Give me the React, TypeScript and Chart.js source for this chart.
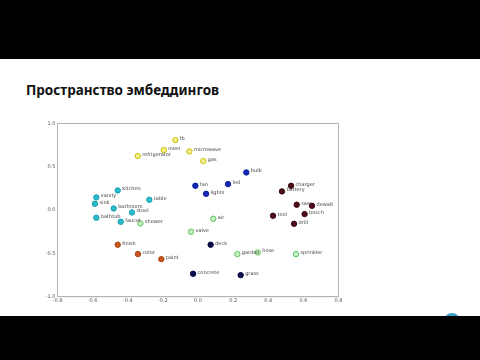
import React, { useEffect, useRef } from "react";
import { Chart, registerables } from "chart.js";

Chart.register(...registerables);

const title = "Пространство эмбеддингов";

const xTicks = [-0.8, -0.6, -0.4, -0.2, 0.0, 0.2, 0.4, 0.6, 0.8];
const yTicks = [-1.0, -0.5, 0.0, 0.5, 1.0];

const appliancesNames = ["fb", "oven", "refrigerator", "microwave", "gas"];
const appliancesX = [-0.129, -0.195, -0.343, -0.049, 0.03];
const appliancesY = [0.808, 0.693, 0.624, 0.677, 0.566];

const lightingNames = ["bulb", "fan", "led", "lights"];
const lightingX = [0.275, -0.015, 0.171, 0.046];
const lightingY = [0.435, 0.281, 0.3, 0.188];

const toolsNames = ["charger", "battery", "saw", "dewalt", "tool", "bosch", "drill"];
const toolsX = [0.53, 0.478, 0.562, 0.649, 0.427, 0.607, 0.547];
const toolsY = [0.281, 0.216, 0.062, 0.05, -0.065, -0.046, -0.158];

const roomsNames = ["kitchen", "vanity", "sink", "table", "bathroom", "stool", "bathtub", "faucet"];
const roomsX = [-0.457, -0.579, -0.587, -0.277, -0.48, -0.376, -0.579, -0.44];
const roomsY = [0.227, 0.147, 0.073, 0.119, 0.019, -0.027, -0.088, -0.135];

const waterNames = ["shower", "air", "valve", "garden", "hose", "sprinkler"];
const waterX = [-0.328, 0.087, -0.04, 0.224, 0.34, 0.558];
const waterY = [-0.154, -0.1, -0.25, -0.508, -0.489, -0.508];

const paintNames = ["finish", "color", "paint"];
const paintX = [-0.457, -0.342, -0.209];
const paintY = [-0.4, -0.508, -0.566];

const outdoorNames = ["deck", "concrete", "grass"];
const outdoorX = [0.072, -0.028, 0.243];
const outdoorY = [-0.4, -0.735, -0.751];

const groups = [
  { names: appliancesNames, xs: appliancesX, ys: appliancesY, fill: "#f3ef8a", edge: "#c9c10c" },
  { names: lightingNames, xs: lightingX, ys: lightingY, fill: "#1428b4", edge: "#0c1c9a" },
  { names: toolsNames, xs: toolsX, ys: toolsY, fill: "#4e0a16", edge: "#3a0610" },
  { names: roomsNames, xs: roomsX, ys: roomsY, fill: "#2abccb", edge: "#1a9eae" },
  { names: waterNames, xs: waterX, ys: waterY, fill: "#c9f0c4", edge: "#5cc45c" },
  { names: paintNames, xs: paintX, ys: paintY, fill: "#c9561e", edge: "#a84414" },
  { names: outdoorNames, xs: outdoorX, ys: outdoorY, fill: "#0c0c52", edge: "#06063c" },
];

const framePlugin = {
  id: "frame",
  beforeDatasetsDraw(chart: any) {
    const { ctx, chartArea } = chart;
    ctx.save();
    ctx.strokeStyle = "#b4b4b4";
    ctx.lineWidth = 1;
    ctx.strokeRect(chartArea.left, chartArea.top, chartArea.right - chartArea.left, chartArea.bottom - chartArea.top);
    ctx.restore();
  },
};

const labelPlugin = {
  id: "pointLabels",
  afterDatasetsDraw(chart: any) {
    const ctx = chart.ctx;
    ctx.save();
    ctx.font = "5px 'DejaVu Sans', sans-serif";
    ctx.fillStyle = "#444";
    ctx.textBaseline = "middle";
    ctx.textAlign = "left";
    chart.data.datasets.forEach((ds: any, di: number) => {
      const meta = chart.getDatasetMeta(di);
      meta.data.forEach((el: any, i: number) => {
        ctx.fillText(ds.names[i], el.x + 4.5, el.y - 1.5);
      });
    });
    ctx.restore();
  },
};

const fmt = (v: number) => (Math.abs(v) < 1e-9 ? "0.0" : Number(v).toFixed(1));

function ScatterChart() {
  const ref = useRef<HTMLCanvasElement | null>(null);
  useEffect(() => {
    if (!ref.current) return;
    const chart = new Chart(ref.current, {
      type: "scatter",
      data: {
        datasets: groups.map((g) => ({
          names: g.names,
          data: g.xs.map((x, i) => ({ x, y: g.ys[i] })),
          backgroundColor: g.fill,
          borderColor: g.edge,
          borderWidth: 1,
          pointRadius: 2.7,
        })) as any,
      },
      options: {
        animation: false,
        responsive: false,
        maintainAspectRatio: false,
        layout: { padding: { left: 0, right: 21.5, top: 13.5, bottom: 0 } },
        plugins: { legend: { display: false }, tooltip: { enabled: false } },
        scales: {
          x: {
            type: "linear",
            min: xTicks[0],
            max: xTicks[xTicks.length - 1],
            afterBuildTicks: (s: any) => {
              s.ticks = xTicks.map((v) => ({ value: v }));
            },
            afterFit: (s: any) => {
              s.height = 13.3;
            },
            ticks: { callback: (v: any) => fmt(v), font: { size: 5, family: "DejaVu Sans" }, color: "#555", padding: 1, maxRotation: 0, autoSkip: false },
            grid: { display: false, drawTicks: false },
            border: { color: "#b4b4b4", width: 1 },
          },
          y: {
            type: "linear",
            min: yTicks[0],
            max: yTicks[yTicks.length - 1],
            afterBuildTicks: (s: any) => {
              s.ticks = yTicks.map((v) => ({ value: v }));
            },
            afterFit: (s: any) => {
              s.width = 57.5;
            },
            ticks: { callback: (v: any) => fmt(v), font: { size: 5, family: "DejaVu Sans" }, color: "#555", padding: 2, autoSkip: false },
            grid: { display: false, drawTicks: false },
            border: { color: "#b4b4b4", width: 1 },
          },
        },
      },
      plugins: [framePlugin as any, labelPlugin as any],
    } as any);
    return () => chart.destroy();
  }, []);
  return (
    <canvas
      ref={ref}
      width={360}
      height={200}
      style={{ position: "absolute", left: 0, top: 110, width: 360, height: 200 }}
    />
  );
}

export default function App() {
  return (
    <div style={{ position: "fixed", left: 0, top: 0, width: 480, height: 360, background: "#000", overflow: "hidden" }}>
      <div style={{ position: "absolute", left: 0, top: 59, width: 480, height: 257, background: "#fff", overflow: "hidden" }}>
        <div
          style={{
            position: "absolute",
            left: 444,
            top: 254,
            width: 16,
            height: 16,
            borderRadius: 8,
            background: "#3aa0c8",
          }}
        />
      </div>
      <div
        style={{
          position: "absolute",
          left: 26,
          top: 80,
          fontFamily: "'Noto Sans', sans-serif",
          fontWeight: 700,
          fontSize: 13.5,
          color: "#111",
          whiteSpace: "nowrap",
          lineHeight: "20px",
        }}
      >
        {title}
      </div>
      <ScatterChart />
    </div>
  );
}
